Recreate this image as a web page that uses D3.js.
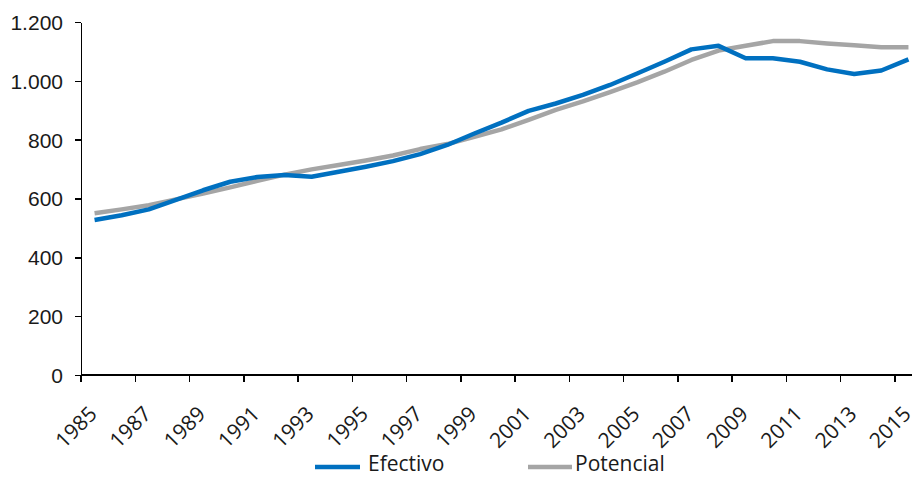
<!DOCTYPE html>
<html lang="es">
<head>
<meta charset="utf-8">
<script src="https://cdn.jsdelivr.net/npm/d3@7"></script>
<style>
  html, body { margin: 0; padding: 0; background: #fff; }
  svg { display: block; font-family: "Open Sans", "Noto Sans", sans-serif; }
  .axis path, .axis line { stroke: #000; stroke-width: 1.5; shape-rendering: crispEdges; }
  .axis text { fill: #1a1a1a; font-size: 21px; font-weight: 400; }
  .legend text { fill: #1a1a1a; font-size: 21px; font-weight: 400; }
</style>
</head>
<body>
<svg id="chart" width="912" height="477"></svg>
<script>
// Producto efectivo vs. potencial, 1985-2015
const years = d3.range(1985, 2016);
const efectivo = [527, 543, 563, 595, 628, 657, 673, 680, 674, 691, 708, 727, 751, 782, 821,
                  858, 898, 923, 952, 986, 1025, 1065, 1107, 1119, 1077, 1077, 1065, 1039, 1023, 1035, 1073];
const potencial = [550, 563, 577, 597, 617, 638, 660, 681, 699, 714, 729, 746, 768, 785, 810,
                   835, 867, 901, 930, 962, 995, 1031, 1071, 1103, 1119, 1135, 1135, 1127, 1121, 1114, 1114];
const yTicks = [0, 200, 400, 600, 800, 1000, 1200];
const xTickYears = years.filter((y, i) => i % 2 === 0);
const seriesNames = ["Efectivo", "Potencial"];
const seriesColors = ["#0070C0", "#A5A5A5"];

const locale = d3.formatLocale({ decimal: ",", thousands: ".", grouping: [3], currency: ["", ""] });
const fmt = locale.format(",d");

const svg = d3.select("#chart");
const plotLeft = 81, plotTop = 22, plotBottom = 375;
const step = 27.13;
const plotRight = plotLeft + step * years.length;

const x = d3.scaleBand().domain(years).range([plotLeft, plotRight]).paddingInner(0).paddingOuter(0);
const y = d3.scaleLinear().domain([0, 1200]).range([plotBottom, plotTop]);

// Y axis
const yAxis = svg.append("g").attr("class", "axis").attr("transform", `translate(${plotLeft},0)`)
  .call(d3.axisLeft(y).tickValues(yTicks).tickFormat(fmt).tickSize(6).tickSizeOuter(0).tickPadding(12));
yAxis.selectAll("text").attr("dy", "0.35em");

// X axis: ticks on category boundaries every two years, labels rotated
const xAxis = svg.append("g").attr("class", "axis").attr("transform", `translate(0,${plotBottom})`);
xAxis.append("line").attr("x1", plotLeft).attr("x2", 912).attr("y1", 0).attr("y2", 0);
xAxis.selectAll("line.tick").data(xTickYears).join("line")
  .attr("class", "tick")
  .attr("x1", d => x(d)).attr("x2", d => x(d))
  .attr("y1", 0).attr("y2", 7);
xAxis.selectAll("text").data(xTickYears).join("text")
  .attr("text-anchor", "end")
  .attr("dy", "0.35em")
  .attr("transform", d => `translate(${x(d) + x.bandwidth() / 2 - 1.5},${35}) rotate(-45)`)
  .text(d => d);

// Lines
const line = d3.line()
  .x((d, i) => x(years[i]) + x.bandwidth() / 2)
  .y(d => y(d));

[potencial, efectivo].forEach((vals, k) => {
  svg.append("path")
    .datum(vals)
    .attr("fill", "none")
    .attr("stroke", k === 0 ? seriesColors[1] : seriesColors[0])
    .attr("stroke-width", 4.5)
    .attr("stroke-linejoin", "round")
    .attr("d", line);
});

// Legend
const legend = svg.append("g").attr("class", "legend");
const legendPos = [{ x1: 315, x2: 360, tx: 368 }, { x1: 528, x2: 572, tx: 575 }];
seriesNames.forEach((name, k) => {
  const p = legendPos[k];
  legend.append("line")
    .attr("x1", p.x1).attr("x2", p.x2).attr("y1", 467).attr("y2", 467)
    .attr("stroke", seriesColors[k]).attr("stroke-width", 4.5);
  legend.append("text").attr("x", p.tx).attr("y", 471).text(name);
});
</script>
</body>
</html>
